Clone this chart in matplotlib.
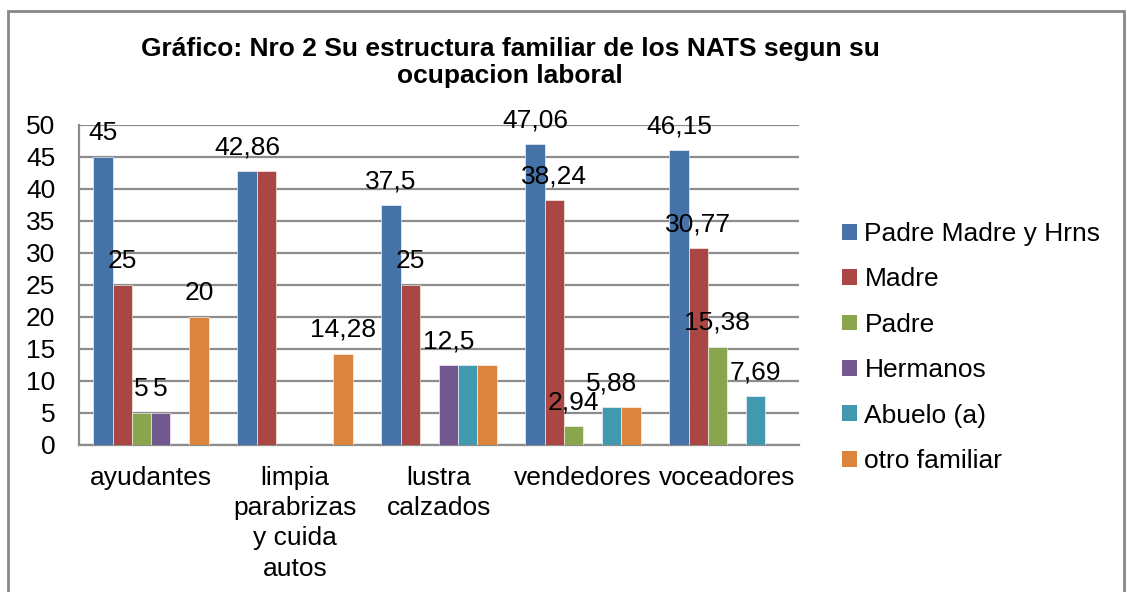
import matplotlib
matplotlib.use("Agg")
import matplotlib.pyplot as plt
from matplotlib.patches import Rectangle, Patch
import numpy as np

plt.rcParams['font.family'] = ['Liberation Sans', 'DejaVu Sans']

title = "Gráfico: Nro 2 Su estructura familiar de los NATS segun su\nocupacion laboral"
categories = ["ayudantes", "limpia\nparabrizas\ny cuida\nautos", "lustra\ncalzados",
              "vendedores", "voceadores"]
series_names = ["Padre Madre y Hrns", "Madre", "Padre", "Hermanos", "Abuelo (a)", "otro familiar"]

padre_madre_hrns = [45, 42.86, 37.5, 47.06, 46.15]
madre = [25, 42.86, 25, 38.24, 30.77]
padre = [5, 0, 0, 2.94, 15.38]
hermanos = [5, 0, 12.5, 0, 0]
abuelo = [0, 0, 12.5, 5.88, 7.69]
otro_familiar = [20, 14.28, 12.5, 5.88, 0]

# which data labels are visible in the original chart
show_pmh = [True, True, True, True, True]
show_madre = [True, False, True, True, True]
show_padre = [True, False, False, True, True]
show_herm = [True, False, True, False, False]
show_abue = [False, False, False, True, True]
show_otro = [True, True, False, False, False]

colors = ['#4572A7', '#AA4643', '#89A54E', '#71588F', '#4198AF', '#DB843D']
yticks = [0, 5, 10, 15, 20, 25, 30, 35, 40, 45, 50]

series = [padre_madre_hrns, madre, padre, hermanos, abuelo, otro_familiar]
shows = [show_pmh, show_madre, show_padre, show_herm, show_abue, show_otro]

W, H = 1127, 592
fig = plt.figure(figsize=(W / 100, H / 100), dpi=100)
ax = fig.add_axes([79 / W, 1 - 445 / H, 720 / W, 320 / H])

FS = 19
x = np.arange(len(categories))
bw = 1 / 7.5
grid_c = '#8C8C8C'

for i, (vals, sh, c) in enumerate(zip(series, shows, colors)):
    pos = x + (i - 2.5) * bw
    ax.bar(pos, vals, width=bw, color=c, edgecolor='white', linewidth=0.4,
           label=series_names[i], zorder=3)
    for px, v, s in zip(pos, vals, sh):
        if s and v > 0:
            txt = ('%g' % v).replace('.', ',')
            ax.annotate(txt, (px, v), xytext=(0, 17), textcoords='offset points',
                        ha='center', va='center', fontsize=FS, color='black', zorder=5)

ax.set_xlim(-0.5, len(categories) - 0.5)
ax.set_ylim(0, 50)
ax.set_yticks(yticks)
ax.set_yticklabels([str(t) for t in yticks], fontsize=FS)
ax.set_xticks(x)
ax.set_xticklabels(categories, fontsize=FS, linespacing=1.33)
ax.tick_params(axis='x', length=0, pad=15)
ax.tick_params(axis='y', length=0, pad=17)
ax.yaxis.grid(True, color=grid_c, linewidth=1.6, zorder=0)
ax.set_axisbelow(True)
for s in ['top', 'right']:
    ax.spines[s].set_visible(False)
ax.spines['left'].set_color(grid_c)
ax.spines['left'].set_linewidth(1.6)
ax.spines['bottom'].set_color(grid_c)
ax.spines['bottom'].set_linewidth(1.6)
ax.spines['left'].set_zorder(4)

fig.text(510 / W, 1 - 62.5 / H, title, ha='center', va='center', fontsize=19,
         fontweight='bold', linespacing=1.18)

handles = [Patch(facecolor=c, edgecolor='none') for c in colors]
fig.legend(handles, series_names, loc='center left', bbox_to_anchor=(842 / W, 1 - 347.5 / H),
           frameon=False, fontsize=FS, handlelength=0.55, handleheight=0.55,
           handletextpad=0.3, labelspacing=0.81, borderaxespad=0, borderpad=0)

fig.patches.append(Rectangle((8 / W, -0.1), (1124 - 8) / W, 1.1 - 10.5 / H,
                             transform=fig.transFigure, fill=False,
                             edgecolor='#878787', linewidth=2))

fig.savefig('out.png', dpi=100)
